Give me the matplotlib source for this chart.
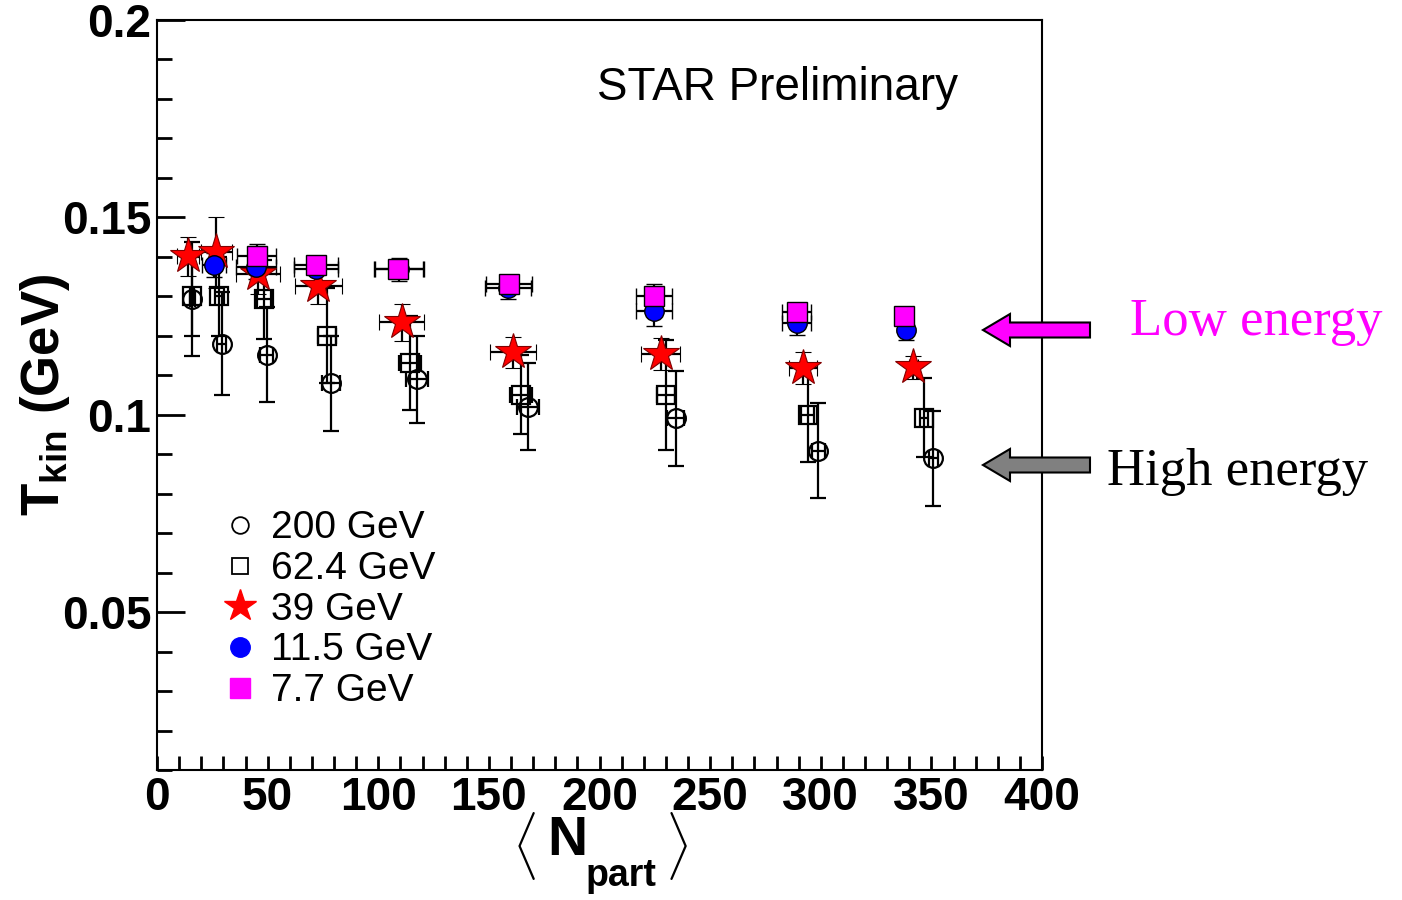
import numpy as np
import matplotlib
matplotlib.use("Agg")
import matplotlib.pyplot as plt
from matplotlib.lines import Line2D
from matplotlib.patches import FancyArrow
from matplotlib.ticker import MultipleLocator

plt.rcParams['font.family'] = ['Liberation Sans', 'DejaVu Sans']
plt.rcParams['mathtext.fontset'] = 'custom'
plt.rcParams['mathtext.rm'] = 'Liberation Sans'
plt.rcParams['mathtext.bf'] = 'Liberation Sans:bold'

# kinetic freeze-out temperature vs <Npart>
N200 = [16.0, 29.2, 49.6, 78.5, 117.4, 167.8, 234.4, 298.9, 350.9]
T200 = [0.1294, 0.118, 0.1152, 0.108, 0.109, 0.102, 0.0991, 0.0909, 0.089]
eT200 = [0.0144, 0.013, 0.012, 0.012, 0.011, 0.011, 0.012, 0.012, 0.012]
eN200 = [1, 2, 3, 4, 5, 5, 4, 3, 2]

N62 = [15.8, 28.2, 48.4, 76.8, 114.3, 164.4, 229.9, 294.1, 346.7]
T62 = [0.130, 0.130, 0.1292, 0.120, 0.1131, 0.1051, 0.105, 0.100, 0.0992]
eT62 = [0.010, 0.010, 0.010, 0.012, 0.012, 0.010, 0.014, 0.012, 0.010]
eN62 = [1, 2, 3, 4, 5, 5, 4, 3, 2]

N39 = [14.1, 26.7, 45.8, 72.9, 110.6, 161.0, 227.6, 292.1, 341.8]
T39 = [0.1401, 0.1412, 0.1357, 0.1327, 0.1234, 0.1158, 0.1154, 0.1119, 0.112]
eT39 = [0.005, 0.009, 0.005, 0.0046, 0.0047, 0.004, 0.004, 0.004, 0.003]
eN39 = [5, 7, 10, 10.6, 10.3, 10.4, 8.7, 6.3, 2]

N11 = [25.9, 44.7, 71.9, 109.5, 158.6, 224.6, 289.1, 338.5]
T11 = [0.138, 0.1374, 0.137, 0.1368, 0.1322, 0.1264, 0.1232, 0.1215]
eT11 = [0.003, 0.003, 0.003, 0.003, 0.003, 0.004, 0.003, 0.0025]
eN11 = [5.5, 9, 10, 11, 10.5, 8.3, 6.4, 2]

N7 = [45.0, 71.9, 109.0, 159.1, 224.6, 289.1, 337.6]
T7 = [0.1402, 0.138, 0.137, 0.1332, 0.130, 0.126, 0.1251]
eT7 = [0.003, 0.002, 0.002, 0.002, 0.003, 0.002, 0.002]
eN7 = [9, 10, 11, 10.5, 8.3, 6.4, 2]

labels = ['200 GeV', '62.4 GeV', '39 GeV', '11.5 GeV', '7.7 GeV']

fig = plt.figure(figsize=(14.02, 9), dpi=100)
ax = fig.add_axes([157/1402, 130/900, 885/1402, 750/900])

ebkw = dict(ls='none', ecolor='black', elinewidth=1.6, capsize=6, capthick=1.6)
ax.errorbar(N200, T200, yerr=eT200, xerr=eN200, marker='o', ms=13.5, mfc='none',
            mec='black', mew=1.6, **ebkw)
ax.errorbar(N62, T62, yerr=eT62, xerr=eN62, marker='s', ms=13, mfc='none',
            mec='black', mew=1.6, **ebkw)
ax.errorbar(N39, T39, yerr=eT39, xerr=eN39, marker='*', ms=27, mfc='red',
            mec='#800000', mew=0.8, **ebkw)
ax.errorbar(N11, T11, yerr=eT11, xerr=eN11, marker='o', ms=14, mfc='blue',
            mec='black', mew=1.0, **ebkw)
ax.errorbar(N7, T7, yerr=eT7, xerr=eN7, marker='s', ms=14, mfc='magenta',
            mec='black', mew=1.0, **ebkw)

ax.set_xlim(0, 400)
ax.set_ylim(0.01, 0.2)
ax.xaxis.set_major_locator(MultipleLocator(50))
ax.xaxis.set_minor_locator(MultipleLocator(10))
ax.yaxis.set_minor_locator(MultipleLocator(0.01))
ax.set_yticks([0.05, 0.1, 0.15, 0.2])
ax.set_yticklabels(['0.05', '0.1', '0.15', '0.2'])
ax.tick_params(axis='both', which='both', direction='in', top=False, right=False,
               width=2.0, labelsize=33, pad=4)
ax.tick_params(axis='y', which='major', length=20)
ax.tick_params(axis='y', which='minor', length=11)
ax.tick_params(axis='x', which='both', length=10)
for lab in ax.get_xticklabels() + ax.get_yticklabels():
    lab.set_fontweight('bold')
for sp in ax.spines.values():
    sp.set_linewidth(1.5)

ax.set_ylabel(r'T$_{\mathbf{kin}}$ (GeV)', fontsize=38, fontweight='bold')
ax.yaxis.set_label_coords((72 - 157)/885, 0.5)

# x title: < N_part > built from pieces so the subscript sits low
fig.text(524/1402, 1 - 846/900, r'$\langle$', fontsize=40, ha='center', va='center')
fig.text(567/1402, 1 - 841/900, 'N', fontsize=40, fontweight='bold',
         ha='center', va='center')
fig.text(586/1402, 1 - 876/900, 'part', fontsize=27, fontweight='bold',
         ha='left', va='center')
fig.text(676/1402, 1 - 846/900, r'$\rangle$', fontsize=40, ha='center', va='center')

ax.text(597/1402, 1 - 88/900, 'STAR Preliminary', transform=fig.transFigure,
        fontsize=33, ha='left', va='center')

handles = [
    Line2D([], [], ls='none', marker='o', ms=12, mfc='none', mec='black', mew=1.3),
    Line2D([], [], ls='none', marker='s', ms=12, mfc='none', mec='black', mew=1.3),
    Line2D([], [], ls='none', marker='*', ms=24, mfc='red', mec='red'),
    Line2D([], [], ls='none', marker='o', ms=14, mfc='blue', mec='blue'),
    Line2D([], [], ls='none', marker='s', ms=14, mfc='magenta', mec='magenta'),
]
ax.legend(handles, labels, loc='upper left', bbox_to_anchor=(201/1402, 1 - 491/900),
          bbox_transform=fig.transFigure, frameon=False, fontsize=28,
          handlelength=1.0, handletextpad=0.3, labelspacing=0.12, borderpad=0)

# arrows pointing at the two groups
for py, col in [(330, 'magenta'), (465, 'gray')]:
    fig.add_artist(FancyArrow(10.90, (900 - py)/100, -0.80, 0, width=0.15,
                              head_width=0.32, head_length=0.27,
                              length_includes_head=False, fc=col, ec='black',
                              lw=1.5, transform=fig.dpi_scale_trans))

fig.text(1130/1402, 1 - 322/900, 'Low energy', color='magenta', fontsize=38,
         family='Liberation Serif', ha='left', va='center')
fig.text(1107/1402, 1 - 472/900, 'High energy', color='black', fontsize=38,
         family='Liberation Serif', ha='left', va='center')

fig.savefig('out.png', dpi=100)
